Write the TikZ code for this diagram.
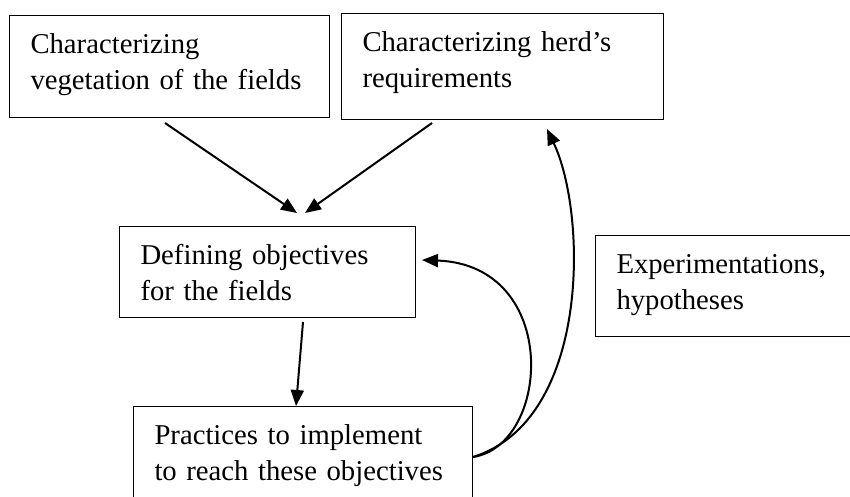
\documentclass[tikz,border=0pt]{standalone}
\usepackage{fontspec}
\setmainfont{Liberation Serif}
\usetikzlibrary{arrows.meta}

\tikzset{
  box/.style={draw, line width=1pt, anchor=north west, align=left,
    inner xsep=21pt, inner ysep=0pt, text height=38pt,
    font=\fontsize{28.7}{36}\selectfont},
  arr/.style={line width=2pt, -{Triangle[length=16pt,width=13pt]}}
}

\begin{document}
\begin{tikzpicture}[x=1pt, y=1pt]

  % page frame
  \useasboundingbox (0,0) rectangle (850,-497);
  \clip (0,0) rectangle (850,-497);

  % boxes on top
  \node[box, text width=278pt, text depth=64pt] (veg) at (9,-15)
    {Characterizing\\vegetation of the fields};
  \node[box, text width=280pt, text depth=68pt] (herd) at (341,-13)
    {Characterizing herd’s\\requirements};

  % middle boxes
  \node[box, text width=254pt, text depth=53pt] (obj) at (119,-226)
    {Defining objectives\\for the fields};
  \node[box, text width=260pt, text depth=63pt] (exp) at (595,-235)
    {Experimentations,\\hypotheses};

  % bottom box
  \node[box, text width=297pt, text depth=110pt] (prac) at (133,-406)
    {Practices to implement\\to reach these objectives};

  % straight arrows
  \draw[arr] ([xshift=156pt,yshift=-5pt]veg.south west)
    -- ([xshift=178pt,yshift=13pt]obj.north west);
  \draw[arr] ([xshift=91pt,yshift=-3pt]herd.south west)
    -- ([xshift=186pt,yshift=13pt]obj.north west);
  \draw[arr] ([xshift=184pt,yshift=-4pt]obj.south west)
    -- ([xshift=163pt]prac.north west);

  % feedback arrows
  \coordinate (back) at ([yshift=-51pt]prac.north east);
  \draw[arr] (back) .. controls +(78,12) and +(139,-5)
    .. ([xshift=6pt,yshift=-34pt]obj.north east);
  \draw[arr] (back) .. controls +(118,37) and +(40,-84)
    .. ([xshift=206pt,yshift=-9pt]herd.south west);

\end{tikzpicture}
\end{document}
